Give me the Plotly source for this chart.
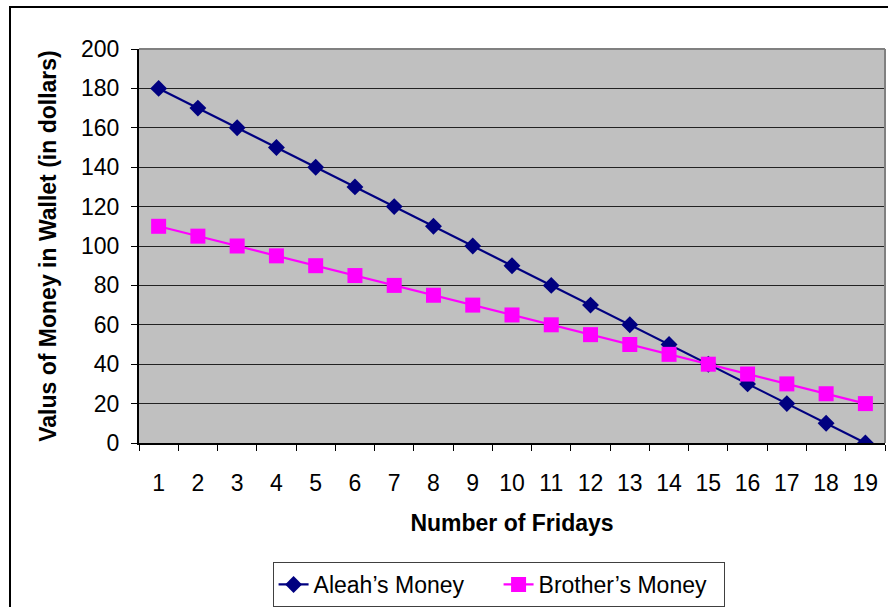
import plotly.graph_objects as go

fridays = [str(i) for i in range(1, 20)]
aleah = [180, 170, 160, 150, 140, 130, 120, 110, 100, 90, 80, 70, 60, 50, 40, 30, 20, 10, 0]
brother = [110, 105, 100, 95, 90, 85, 80, 75, 70, 65, 60, 55, 50, 45, 40, 35, 30, 25, 20]
y_ticks = [0, 20, 40, 60, 80, 100, 120, 140, 160, 180, 200]

FONT = "Liberation Sans, Arial, sans-serif"
FS = 23

fig = go.Figure()
fig.add_trace(go.Scatter(
    x=fridays, y=aleah, name="Aleah\u2019s Money", mode="lines+markers",
    line=dict(color="#000080", width=2.2),
    marker=dict(symbol="diamond", size=13, color="#000080"),
))
fig.add_trace(go.Scatter(
    x=fridays, y=brother, name="Brother\u2019s Money", mode="lines+markers",
    line=dict(color="#FF00FF", width=2.2),
    marker=dict(symbol="square", size=15, color="#FF00FF"),
))

fig.update_layout(
    width=888, height=607,
    margin=dict(l=139, r=3, t=49, b=164, autoexpand=False),
    paper_bgcolor="white",
    plot_bgcolor="#C0C0C0",
    font=dict(family=FONT, size=FS, color="black"),
    showlegend=True,
    legend=dict(
        orientation="h", x=0.482, xanchor="center", y=-0.302, yanchor="top",
        bordercolor="#404040", borderwidth=1, bgcolor="white",
        font=dict(family=FONT, size=FS, color="black"),
        tracegroupgap=0, entrywidth=180, entrywidthmode="pixels",
    ),
    xaxis=dict(
        type="category", tickson="boundaries", ticks="outside", ticklen=6,
        tickcolor="black", tickwidth=1, ticklabelstandoff=18, automargin=False,
        showline=True, linecolor="black", linewidth=2, mirror=False,
        showgrid=False, zeroline=False,
        tickfont=dict(family=FONT, size=FS),
        title=dict(text="<b>Number of Fridays</b>", font=dict(family=FONT, size=FS), standoff=20),
        range=[-0.5, 18.5],
    ),
    yaxis=dict(
        range=[0, 200], tickvals=y_ticks, ticks="outside", ticklen=6,
        tickcolor="black", tickwidth=1, ticklabelstandoff=7, automargin=False,
        showline=True, linecolor="black", linewidth=2,
        showgrid=True, gridcolor="#222222", gridwidth=1, zeroline=False,
        tickfont=dict(family=FONT, size=FS),
        title=dict(text="<b>Valus of Money in Wallet (in dollars)</b>", font=dict(family=FONT, size=FS), standoff=18),
    ),
    shapes=[
        dict(type="line", xref="paper", yref="paper", x0=0, x1=1, y0=1, y1=1,
             line=dict(color="#808080", width=2)),
        dict(type="line", xref="paper", yref="paper", x0=1, x1=1, y0=0, y1=1,
             line=dict(color="#808080", width=2)),
        dict(type="rect", xref="paper", yref="paper",
             x0=(10 - 139) / 746, x1=1.2, y0=-0.6, y1=(443 - 7) / 394,
             line=dict(color="black", width=2), fillcolor="rgba(0,0,0,0)", layer="below"),
    ],
)

fig.write_html("out.html", config={"displayModeBar": False},
               post_script="document.body.style.margin='0px';document.body.style.overflow='hidden';")
